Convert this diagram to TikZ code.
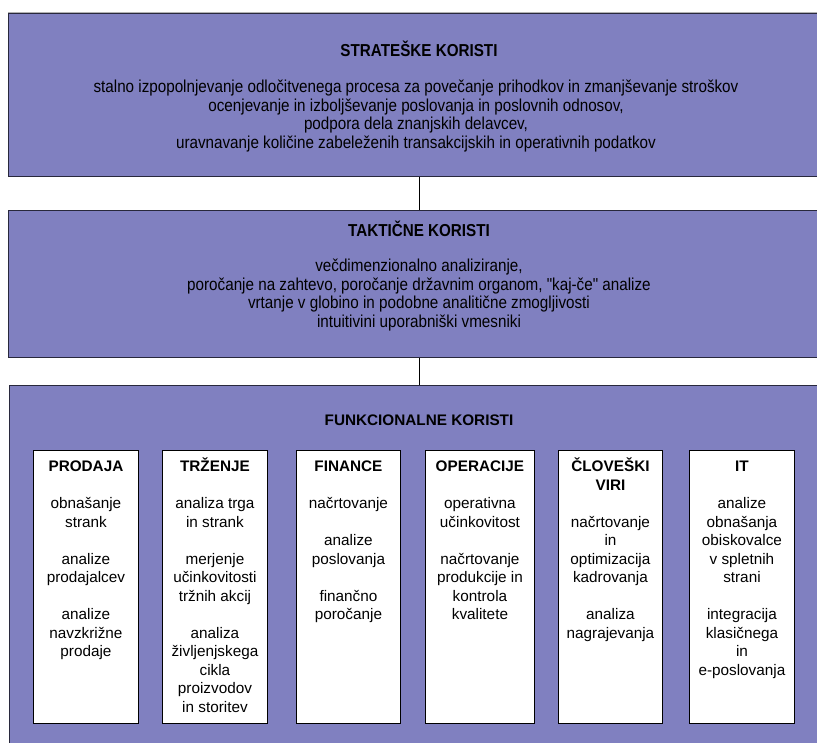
\documentclass[tikz,border=0pt]{standalone}
\usepackage{fontspec}
\setmainfont{Liberation Sans}
\newfontfamily\narrowfont[FakeStretch=0.88]{Liberation Sans}
\definecolor{boxfill}{RGB}{128,128,192}
\definecolor{edge}{RGB}{40,40,60}
\newcommand{\topstrut}{\rule{0pt}{15pt}}
\begin{document}
\begin{tikzpicture}[x=1pt,y=-1pt,
  panel/.style={draw=edge, line width=1pt, fill=boxfill, rectangle, anchor=north west, inner sep=0pt},
  column/.style={draw=black, line width=0.9pt, fill=white, rectangle, anchor=north west, inner sep=0pt, minimum height=273pt},
  heading/.style={font=\narrowfont\fontsize{17.3}{18.5}\selectfont\bfseries, inner sep=0pt},
  body/.style={font=\narrowfont\fontsize{17.3}{18.7}\selectfont, align=center, inner sep=0pt},
  coltext/.style={font=\fontsize{15.3}{18.5}\selectfont, align=center, anchor=north, inner sep=0pt},
  link/.style={draw=black, line width=1pt}]
\useasboundingbox (0,0) rectangle (817,742);
\fill[white] (0,0) rectangle (817,742);
% panels
\draw[gray!60, line width=1pt] (8,12.5) -- (830,12.5);
\node[panel, minimum width=822pt, minimum height=163pt] (strat) at (8,13) {};
\node[panel, minimum width=822pt, minimum height=147pt] (takt) at (8,210) {};
\node[panel, minimum width=822pt, minimum height=380pt] (funk) at (9,384.5) {};
\draw[link] (strat.south -| 419,0) -- (takt.north -| 419,0);
\draw[link] (takt.south -| 419,0) -- (funk.north -| 419,0);
% strategic
\node[heading] (stratT) at (419,49) {STRATEŠKE KORISTI};
\node[body] (stratB) at (416,116) {stalno izpopolnjevanje odločitvenega procesa za povečanje prihodkov in zmanjševanje stroškov\\
ocenjevanje in izboljševanje poslovanja in poslovnih odnosov,\\
podpora dela znanjskih delavcev,\\
uravnavanje količine zabeleženih transakcijskih in operativnih podatkov};
% tactical
\node[heading] (taktT) at (419,229) {TAKTIČNE KORISTI};
\node[body] (taktB) at (419,295) {večdimenzionalno analiziranje,\\
poročanje na zahtevo, poročanje državnim organom, "kaj-če" analize\\
vrtanje v globino in podobne analitične zmogljivosti\\
intuitivini uporabniški vmesniki};
% functional
\node[font=\fontsize{15.3}{18.5}\selectfont\bfseries, inner sep=0pt] (funkT) at (419,420) {FUNKCIONALNE KORISTI};
\node[column, minimum width=105pt] (c1) at (33,450) {};
\node[column, minimum width=105pt] (c2) at (162,450) {};
\node[column, minimum width=104pt] (c3) at (296,450) {};
\node[column, minimum width=109pt] (c4) at (425,450) {};
\node[column, minimum width=104pt] (c5) at (558,450) {};
\node[column, minimum width=105pt] (c6) at (689,450) {};
\node[coltext] (t1) at ([yshift=-6.5pt]c1.north) {\topstrut\textbf{PRODAJA}\\[18.5pt]obnašanje\\strank\\[18.5pt]analize\\prodajalcev\\[18.5pt]analize\\navzkrižne\\prodaje};
\node[coltext] (t2) at ([yshift=-6.5pt]c2.north) {\topstrut\textbf{TRŽENJE}\\[18.5pt]analiza trga\\in strank\\[18.5pt]merjenje\\učinkovitosti\\tržnih akcij\\[18.5pt]analiza\\življenjskega\\cikla\\proizvodov\\in storitev};
\node[coltext] (t3) at ([yshift=-6.5pt]c3.north) {\topstrut\textbf{FINANCE}\\[18.5pt]načrtovanje\\[18.5pt]analize\\poslovanja\\[18.5pt]finančno\\poročanje};
\node[coltext] (t4) at ([yshift=-6.5pt]c4.north) {\topstrut\textbf{OPERACIJE}\\[18.5pt]operativna\\učinkovitost\\[18.5pt]načrtovanje\\produkcije in\\kontrola\\kvalitete};
\node[coltext] (t5) at ([yshift=-6.5pt]c5.north) {\topstrut\textbf{ČLOVEŠKI}\\\textbf{VIRI}\\[18.5pt]načrtovanje\\in\\optimizacija\\kadrovanja\\[18.5pt]analiza\\nagrajevanja};
\node[coltext] (t6) at ([yshift=-6.5pt]c6.north) {\topstrut\textbf{IT}\\[18.5pt]analize\\obnašanja\\obiskovalce\\v spletnih\\strani\\[18.5pt]integracija\\klasičnega\\in\\e-poslovanja};
\end{tikzpicture}
\end{document}
